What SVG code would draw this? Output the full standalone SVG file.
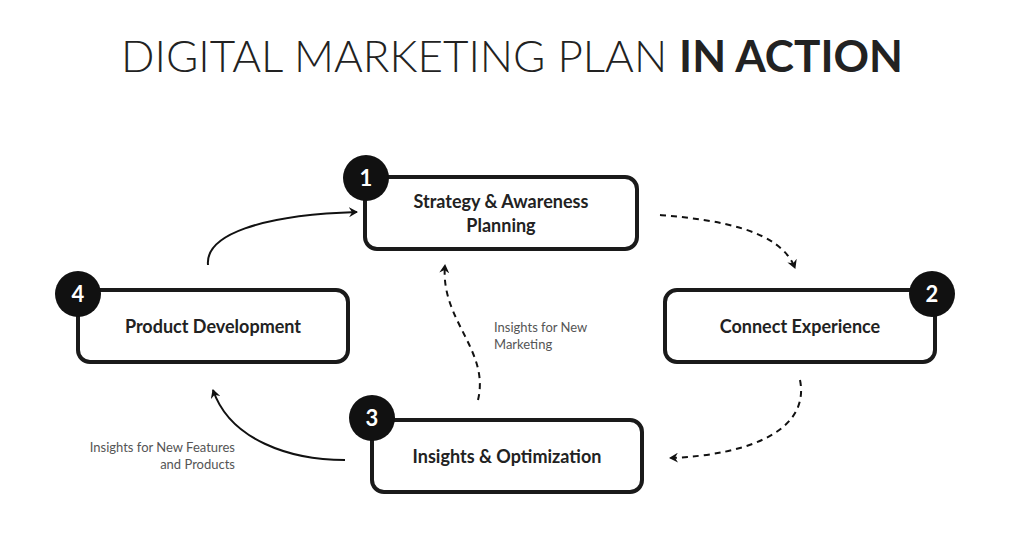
<svg xmlns="http://www.w3.org/2000/svg" width="1024" height="536" viewBox="0 0 1024 536">
<style>
.box{fill:#fff;stroke:#1a1a1a;stroke-width:4}
.num{fill:#111}
.nt{font-family:Lato,"Liberation Sans",sans-serif;font-weight:bold;font-size:22px;fill:#fff;text-anchor:middle}
.lbl{font-family:Lato,"Liberation Sans",sans-serif;font-weight:bold;font-size:18px;fill:#222;text-anchor:middle}
.sm{font-family:Lato,"Liberation Sans",sans-serif;font-size:13px;fill:#555}
.c{fill:none;stroke:#111;stroke-width:2}
.d{stroke-dasharray:6 5}
</style>
<defs><marker id="a" markerWidth="10" markerHeight="10" refX="8" refY="5" orient="auto" markerUnits="userSpaceOnUse"><path d="M0,0 L9,5 L0,10 L3,5 Z" fill="#111"/></marker></defs>
<rect width="1024" height="536" fill="#fff"/>
<text x="512" y="72" text-anchor="middle" font-family="Lato,'Liberation Sans',sans-serif" font-size="44" fill="#222" font-weight="300">DIGITAL MARKETING PLAN <tspan font-weight="bold">IN ACTION</tspan></text>
<g id="connectors">
<path class="c" d="M208,265 C205,235 260,215 357,212" marker-end="url(#a)"/>
<path class="c d" d="M660,215 C720,220 780,230 795,268" marker-end="url(#a)"/>
<path class="c d" d="M800,380 C810,430 750,455 670,458" marker-end="url(#a)"/>
<path class="c" d="M345,460 C290,460 230,440 213,390" marker-end="url(#a)"/>
<path class="c d" d="M478,400 C490,350 440,320 445,265" marker-end="url(#a)"/>
</g>
<g id="n1"><rect class="box" x="365" y="177" width="272" height="72" rx="12"/><circle class="num" cx="366" cy="178" r="23"/><text class="nt" x="366" y="186">1</text><text class="lbl" x="501" y="208">Strategy &amp; Awareness</text><text class="lbl" x="501" y="232">Planning</text></g>
<g id="n2"><rect class="box" x="665" y="290" width="270" height="72" rx="12"/><circle class="num" cx="932" cy="294" r="23"/><text class="nt" x="932" y="302">2</text><text class="lbl" x="800" y="333">Connect Experience</text></g>
<g id="n3"><rect class="box" x="372" y="420" width="270" height="72" rx="12"/><circle class="num" cx="372" cy="418" r="23"/><text class="nt" x="372" y="426">3</text><text class="lbl" x="507" y="463">Insights &amp; Optimization</text></g>
<g id="n4"><rect class="box" x="78" y="290" width="270" height="72" rx="12"/><circle class="num" cx="78" cy="294" r="23"/><text class="nt" x="78" y="302">4</text><text class="lbl" x="213" y="333">Product Development</text></g>
<text class="sm" x="494" y="332">Insights for New</text>
<text class="sm" x="494" y="349">Marketing</text>
<text class="sm" x="235" y="452" text-anchor="end">Insights for New Features</text>
<text class="sm" x="235" y="469" text-anchor="end">and Products</text>
</svg>
